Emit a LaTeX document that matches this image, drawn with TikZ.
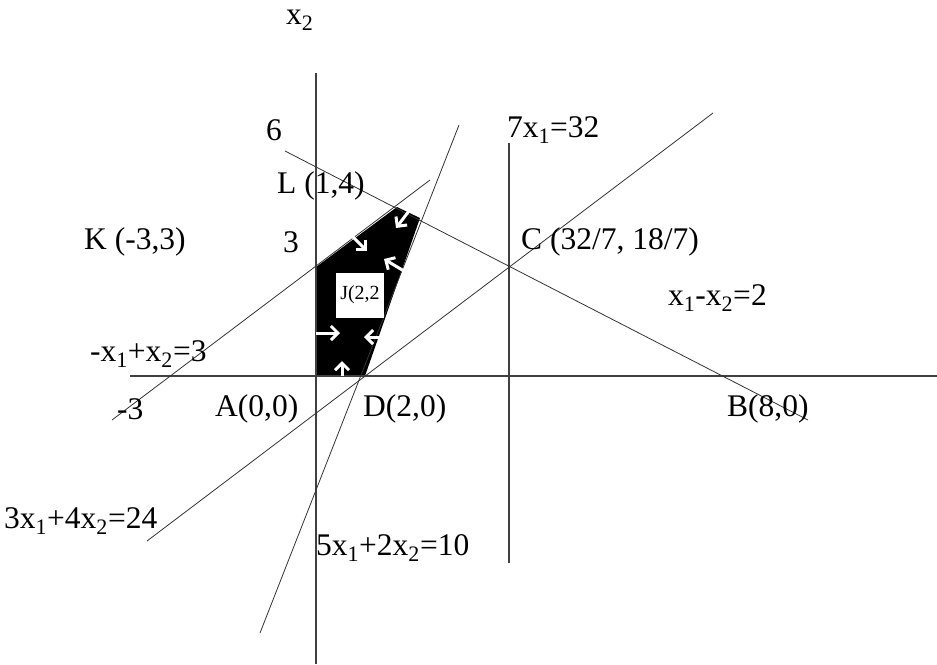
\documentclass[tikz,border=0pt]{standalone}
\usepackage{fontspec}
\setmainfont{Liberation Serif}
\usetikzlibrary{arrows.meta}
\begin{document}
\begin{tikzpicture}[x=1pt,y=-1pt,
  axisline/.style={line width=1.3pt, draw=black!75},
  cline/.style={line width=0.8pt, draw=black!80},
  lbl/.style={anchor=west, inner sep=0pt, font=\fontsize{31.5}{36}\selectfont},
  warrow/.style={draw=white, line width=3pt, -{Straight Barb[length=7pt,width=14pt,line width=3pt]}}]
\useasboundingbox (0,0) rectangle (937,664);
% axes
\coordinate (hx0) at (130,376); \coordinate (hx1) at (937,376);
\coordinate (vy0) at (316,73);  \coordinate (vy1) at (316,664);
% constraint line ends
\coordinate (s0) at (509,143); \coordinate (s1) at (509,563);
\coordinate (k0) at (112,420); \coordinate (k1) at (430,180);
\coordinate (b0) at (285,151); \coordinate (b1) at (808,420);
\coordinate (c0) at (147,541); \coordinate (c1) at (713,113);
\coordinate (d0) at (260,633); \coordinate (d1) at (459,125);
% feasible region
\coordinate (pA) at (316,376); \coordinate (pD) at (365,376);
\coordinate (pR) at (420,218); \coordinate (pT) at (397,207);
\coordinate (pK) at (316,267);
\fill[black] (pA) -- (pD) -- (pR) -- (pT) -- (pK) -- cycle;
\draw[axisline] (hx0) -- (hx1);
\draw[axisline] (vy0) -- (vy1);
\draw[axisline] (s0) -- (s1);
\draw[cline] (k0) -- (k1);
\draw[cline] (b0) -- (b1);
\draw[cline] (c0) -- (c1);
\draw[cline] (d0) -- (d1);
% white arrows
\coordinate (a1s) at (409,211); \coordinate (a1e) at (396,228);
\coordinate (a2s) at (353,237); \coordinate (a2e) at (367,251);
\coordinate (a3s) at (404,271); \coordinate (a3e) at (384,259);
\coordinate (a4s) at (316,333); \coordinate (a4e) at (340,333);
\coordinate (a5s) at (379,337); \coordinate (a5e) at (364,337);
\coordinate (a6s) at (342,376); \coordinate (a6e) at (342,361);
\draw[warrow] (a1s) -- (a1e);
\draw[warrow] (a2s) -- (a2e);
\draw[warrow] (a3s) -- (a3e);
\draw[warrow] (a4s) -- (a4e);
\draw[warrow] (a5s) -- (a5e);
\draw[warrow] (a6s) -- (a6e);
% J box
\node[fill=white, minimum width=48pt, minimum height=45pt, inner sep=0pt, font=\fontsize{20}{22}\selectfont] (jbox) at (360,295) {J(2,2};
% labels
\node[lbl] (lx2) at (286,20) {x\textsubscript{2}};
\node[lbl] (l6) at (266,130) {6};
\node[lbl] (lL) at (277,186) {L (1,4)};
\node[lbl] (lK) at (84,242) {K (-3,3)};
\node[lbl] (l3) at (283,242) {3};
\node[lbl] (lC) at (521,242) {C (32/7, 18/7)};
\node[lbl] (l7) at (507,130) {7x\textsubscript{1}=32};
\node[lbl] (lxm) at (668,298) {x\textsubscript{1}-x\textsubscript{2}=2};
\node[lbl] (lmx) at (90,354) {-x\textsubscript{1}+x\textsubscript{2}=3};
\node[lbl] (lm3) at (117,409) {-3};
\node[lbl] (lA) at (215,409) {A(0,0)};
\node[lbl] (lD) at (363,409) {D(2,0)};
\node[lbl] (lB) at (727,409) {B(8,0)};
\node[lbl] (l34) at (4,521) {3x\textsubscript{1}+4x\textsubscript{2}=24};
\node[lbl] (l52) at (316,548) {5x\textsubscript{1}+2x\textsubscript{2}=10};
\end{tikzpicture}
\end{document}
